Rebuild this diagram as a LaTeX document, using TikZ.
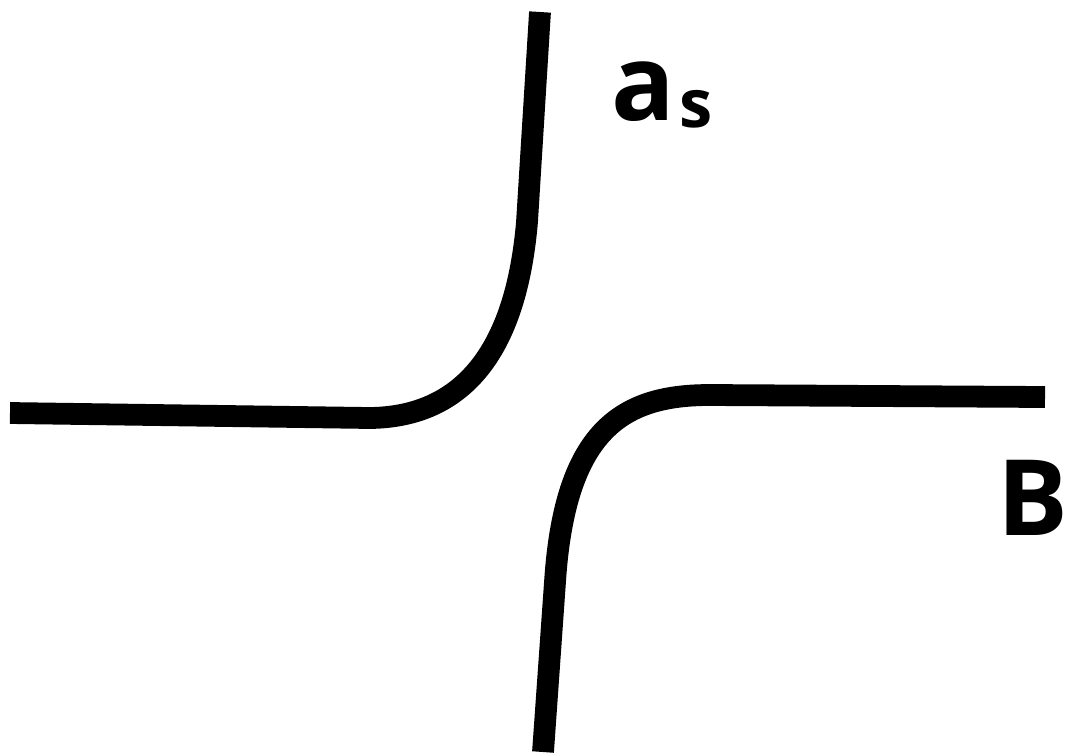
\documentclass[tikz,border=0pt]{standalone}
\usepackage{fontspec}
\setmainfont{Open Sans}
\usepackage{tikz}
\usetikzlibrary{positioning}

\begin{document}
\begin{tikzpicture}[
    curve/.style={line width=6.2pt, line join=round, black},
    label/.style={font=\fontsize{30}{36}\selectfont\bfseries, inner sep=0pt},
    sub/.style={font=\fontsize{19}{22}\selectfont\bfseries, inner sep=0pt},
]
\useasboundingbox (0,0) rectangle (10.65,7.52);

% end points of the two branches
\coordinate (top) at (5.40,7.40);
\coordinate (left) at (0.10,3.39);
\coordinate (bottom) at (5.43,0);
\coordinate (right) at (10.45,3.55);

% upper left branch
\draw[curve] (top) -- (5.27,5.30)
    .. controls (5.15,3.90) and (4.55,3.35) .. (3.70,3.34) -- (left);

% lower right branch
\draw[curve] (bottom) -- (5.55,1.70)
    .. controls (5.65,3.25) and (6.25,3.57) .. (7.10,3.57) -- (right);

% labels
\node[label] (a) at (6.43,6.60) {a};
\node[sub, anchor=base west, xshift=0.03cm, yshift=-0.07cm] (s) at (a.base east) {s};
\node[label] (B) at (10.33,2.54) {B};
\end{tikzpicture}
\end{document}
